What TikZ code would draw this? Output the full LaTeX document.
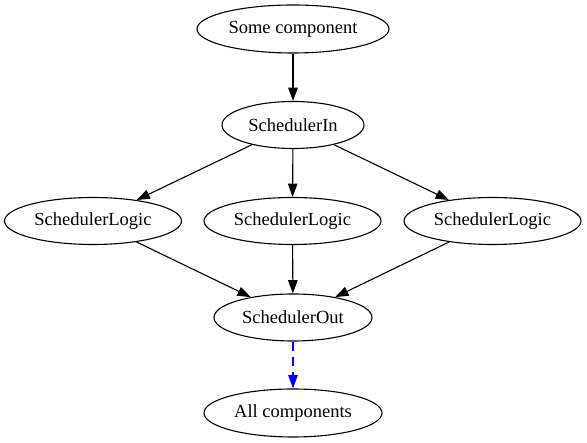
\documentclass[tikz,border=0pt]{standalone}
\usepackage{fontspec}
\setmainfont{Liberation Serif}
\usetikzlibrary{shapes.geometric,arrows.meta}
\tikzset{
  gnode/.style={ellipse, draw, line width=1.1pt, inner sep=0pt, font=\fontsize{18.5}{22}\selectfont},
  gedge/.style={line width=1.1pt, -{Triangle[length=13.3pt,width=9.5pt]}},
  bedge/.style={line width=1.1pt, blue, dash pattern=on 9pt off 6pt, -{Triangle[length=13.3pt,width=9.5pt]}}
}
\begin{document}
\begin{tikzpicture}[x=1pt,y=1pt]
\useasboundingbox (0,0) rectangle (587,443);
\node[gnode, minimum width=192pt, minimum height=48pt] (some) at (293,414) {Some component};
\node[gnode, minimum width=142pt, minimum height=47pt] (in) at (293,318) {SchedulerIn};
\node[gnode, minimum width=177pt, minimum height=47pt] (l1) at (93,222) {SchedulerLogic};
\node[gnode, minimum width=177pt, minimum height=47pt] (l2) at (292.5,222) {SchedulerLogic};
\node[gnode, minimum width=177pt, minimum height=47pt] (l3) at (492.5,222) {SchedulerLogic};
\node[gnode, minimum width=158pt, minimum height=47pt] (out) at (293,125.5) {SchedulerOut};
\node[gnode, minimum width=178pt, minimum height=48pt] (all) at (293,30) {All components};
\draw[gedge] (some) -- (in);
\draw[gedge] (in) -- (l1);
\draw[gedge] (in) -- (l2);
\draw[gedge] (in) -- (l3);
\draw[gedge] (l1) -- (out);
\draw[gedge] (l2) -- (out);
\draw[gedge] (l3) -- (out);
\draw[bedge] (out) -- (all);
\end{tikzpicture}
\end{document}
